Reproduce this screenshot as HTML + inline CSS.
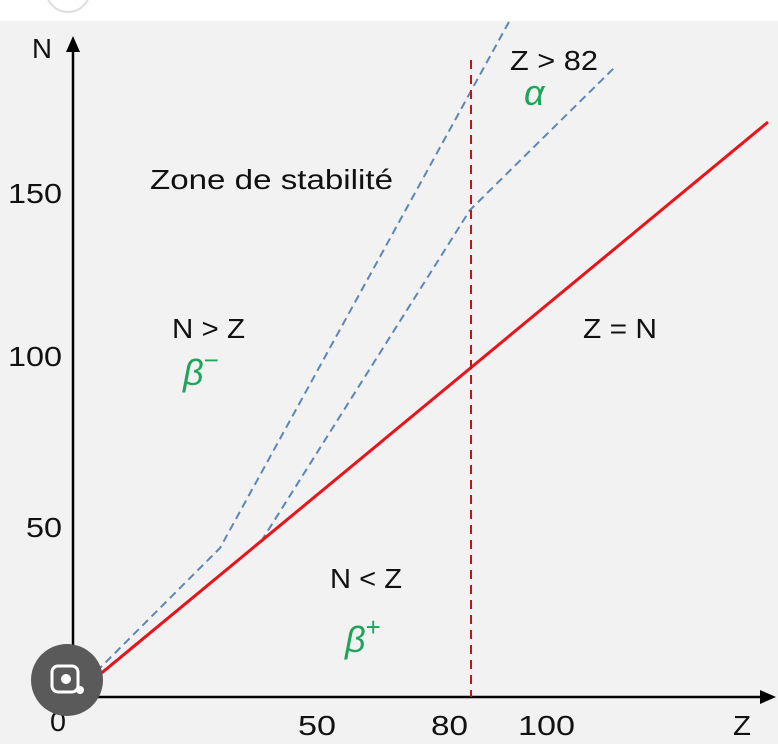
<!DOCTYPE html>
<html><head><style>
body{margin:0;width:778px;height:750px;background:#fff;overflow:hidden}
svg{display:block}
text{font-family:"Liberation Sans",sans-serif;fill:#111}
</style></head><body>
<svg width="778" height="750" viewBox="0 0 778 750">
<rect x="0" y="21" width="778" height="723" fill="#f2f2f2"/>
<circle cx="68" cy="-10" r="22" fill="none" stroke="#ddd" stroke-width="2"/>
<line x1="73" y1="697" x2="73" y2="50" stroke="#000" stroke-width="2.5"/>
<polygon points="73,36 66,52 80,52" fill="#000"/>
<line x1="73" y1="697" x2="762" y2="697" stroke="#000" stroke-width="2.5"/>
<polygon points="776,697 760,690 760,704" fill="#000"/>
<polyline points="78,690 220,548 510,20" fill="none" stroke="#5b86b8" stroke-width="2" stroke-dasharray="8,5"/>
<polyline points="80,690 262,540 470,210 615,67" fill="none" stroke="#5b86b8" stroke-width="2" stroke-dasharray="8,5"/>
<line x1="75" y1="695" x2="768" y2="122" stroke="#e8141b" stroke-width="3"/>
<line x1="471" y1="60" x2="471" y2="697" stroke="#c0141b" stroke-width="2" stroke-dasharray="9,6"/>
<g font-size="28">
<text x="32" y="58" textLength="20" lengthAdjust="spacingAndGlyphs">N</text>
<text x="8" y="203" textLength="54" lengthAdjust="spacingAndGlyphs">150</text>
<text x="8" y="366" textLength="54" lengthAdjust="spacingAndGlyphs">100</text>
<text x="26" y="537" textLength="36" lengthAdjust="spacingAndGlyphs">50</text>
<text x="50" y="731" textLength="16" lengthAdjust="spacingAndGlyphs">0</text>
<text x="298" y="735" textLength="38" lengthAdjust="spacingAndGlyphs">50</text>
<text x="431" y="735" textLength="37" lengthAdjust="spacingAndGlyphs">80</text>
<text x="518" y="735" textLength="57" lengthAdjust="spacingAndGlyphs">100</text>
<text x="733" y="735" textLength="18" lengthAdjust="spacingAndGlyphs">Z</text>
<text x="150" y="189" textLength="243" lengthAdjust="spacingAndGlyphs">Zone de stabilité</text>
<text x="172" y="338" textLength="73" lengthAdjust="spacingAndGlyphs">N &gt; Z</text>
<text x="510" y="70" textLength="88" lengthAdjust="spacingAndGlyphs">Z &gt; 82</text>
<text x="583" y="338" textLength="74" lengthAdjust="spacingAndGlyphs">Z = N</text>
<text x="330" y="588" textLength="72" lengthAdjust="spacingAndGlyphs">N &lt; Z</text>
</g>
<g font-size="36" font-style="italic">
<text x="183" y="385" style="fill:#1fa55a">β<tspan font-size="26" dy="-16" font-style="normal">−</tspan></text>
<text x="524" y="105" style="fill:#1fa55a">α</text>
<text x="345" y="652" style="fill:#1fa55a">β<tspan font-size="26" dy="-16" font-style="normal">+</tspan></text>
</g>
<circle cx="67" cy="680" r="36" fill="#5a5a5a"/>
<rect x="52" y="666" width="26" height="26" rx="6" fill="none" stroke="#fff" stroke-width="3"/>
<circle cx="66" cy="679" r="5" fill="#fff"/>
<circle cx="80" cy="690" r="4" fill="#fff"/>
</svg>
</body></html>
